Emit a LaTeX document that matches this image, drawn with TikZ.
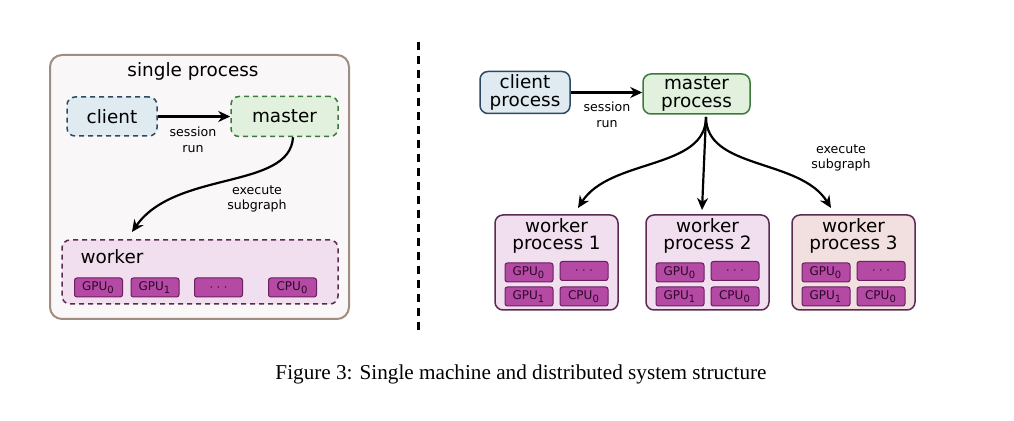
\documentclass[tikz,border=0pt]{standalone}
\usepackage{fontspec}
\setmainfont{Liberation Serif}
\newfontfamily\dejavu{DejaVu Sans}
\usetikzlibrary{arrows.meta}

\definecolor{clientfill}{HTML}{DFEAF1}
\definecolor{clientline}{HTML}{2E4A62}
\definecolor{masterfill}{HTML}{E2F1DD}
\definecolor{masterline}{HTML}{3A7A3A}
\definecolor{workerfill}{HTML}{F1DFF0}
\definecolor{workerfillb}{HTML}{F2E0E0}
\definecolor{workerline}{HTML}{5A2A52}
\definecolor{unitfill}{HTML}{B54AA5}
\definecolor{unitline}{HTML}{6A1F5F}
\definecolor{unittext}{HTML}{2A0826}
\definecolor{panelfill}{HTML}{FAF7F8}
\definecolor{panelline}{HTML}{A08C80}

\tikzset{
  box/.style={rounded corners=4pt, line width=0.75pt, inner sep=0pt,
    font=\dejavu\fontsize{9.2}{8.6}\selectfont, align=center},
  dashbox/.style={box, dash pattern=on 2.5pt off 2pt},
  unit/.style={draw=unitline, fill=unitfill, rounded corners=1.2pt, line width=0.5pt,
    minimum width=24pt, minimum height=9.5pt, inner sep=0pt,
    font=\dejavu\fontsize{6}{6}\selectfont, text=unittext},
  lbl/.style={font=\dejavu\fontsize{6.3}{7.8}\selectfont, align=center},
  flow/.style={-{Stealth[length=6pt,width=5.5pt]}, line width=1.1pt},
}

\begin{document}
\begin{tikzpicture}[x=0.5pt,y=-0.5pt]
\useasboundingbox (0,0) rectangle (1014,421);

% single machine
\node[box, draw=panelline, fill=panelfill, line width=1pt, rounded corners=6pt,
  minimum width=149.5pt, minimum height=132pt] (panel) at (199.5,187) {};
\node[box] (ptitle) at (193,71) {single process};

\node[dashbox, draw=clientline, fill=clientfill, minimum width=45pt, minimum height=19.5pt] (sclient) at (112,116.5) {client};
\node[dashbox, draw=masterline, fill=masterfill, minimum width=53.5pt, minimum height=20pt] (smaster) at (284.5,116.5) {master};
\draw[flow] (sclient) -- (smaster);
\node[lbl] (srun) at (193,140) {session\\run};

\node[dashbox, draw=workerline, fill=workerfill, minimum width=138pt, minimum height=32pt] (sworker) at (200,272) {};
\node[box] (swtitle) at (112,256.5) {worker};
\node[unit] (sgpua) at (98.5,287.5) {GPU\textsubscript{0}};
\node[unit] (sgpub) at (155,287.5) {GPU\textsubscript{1}};
\node[unit] (sdots) at (218.5,287.5) {$\cdots$};
\node[unit] (scpu) at (292.5,287.5) {CPU\textsubscript{0}};

\coordinate (stip) at (132,232);
\draw[flow] (smaster.south -| 293,0) .. controls (290,190) and (175,170) .. (stip);
\node[lbl] (sexec) at (257,199) {execute\\subgraph};

% divider
\coordinate (dtop) at (418,42);
\coordinate (dbot) at (418,333);
\draw[line width=1.5pt, dash pattern=on 4pt off 3pt] (dtop) -- (dbot);

% distributed
\node[box, draw=clientline, fill=clientfill, minimum width=45pt, minimum height=21pt] (dclient) at (525,92.5) {client\\process};
\node[box, draw=masterline, fill=masterfill, minimum width=53.5pt, minimum height=20pt] (dmaster) at (696.5,94) {master\\process};
\draw[flow] (dclient) -- (dclient -| dmaster.west);
\node[lbl] (drun) at (607,115) {session\\run};

\foreach \i/\x/\c in {1/556.5/workerfill, 2/707.5/workerfill, 3/853.5/workerfillb} {
  \node[box, draw=workerline, fill=\c, minimum width=61.5pt, minimum height=47.5pt] (dworker\i) at (\x,262.5) {};
  \node[box] (dwtitle\i) at (\x,236) {worker\\process \i};
  \node[unit] (dgpua\i) at (\x-27.5,272.5) {GPU\textsubscript{0}};
  \node[unit] (ddots\i) at (\x+27.5,271) {$\cdots$};
  \node[unit] (dgpub\i) at (\x-27.5,296.5) {GPU\textsubscript{1}};
  \node[unit] (dcpu\i) at (\x+27.5,296.5) {CPU\textsubscript{0}};
}

\coordinate (dfork) at (706,117);
\coordinate (dtipa) at (578,208);
\coordinate (dtipb) at (702,210);
\coordinate (dtipc) at (831,208);
\draw[flow] (dfork) .. controls (706,170) and (610,158) .. (dtipa);
\draw[flow] (dfork) -- (dtipb);
\draw[flow] (dfork) .. controls (706,170) and (800,158) .. (dtipc);
\node[lbl] (dexec) at (841,158) {execute\\subgraph};

% caption
\node[font=\fontsize{10.6}{12}\selectfont] (caption) at (521,374) {Figure 3: Single machine and distributed system structure};
\end{tikzpicture}
\end{document}
